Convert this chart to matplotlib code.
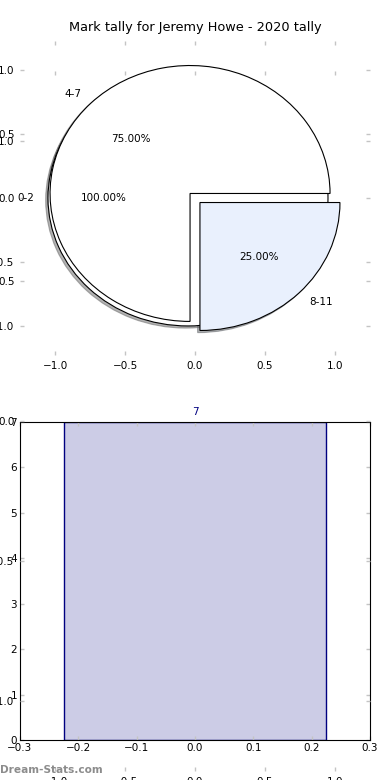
import matplotlib.pyplot as plt

# dados do grafico
titulo = 'Mark tally for Jeremy Howe - 2020 tally'
rotulos_1 = ['0-2']
valores_1 = [1]
rotulos_2 = ['4-7', '8-11']
valores_2 = [3, 1]
cores_2 = ['#ffffff', '#e9f0fd']
barra_x = [0]
barra_altura = [7]

W, H = 390.0, 780.0
fig = plt.figure(figsize=(3.9, 7.8), dpi=100)


def caixa(x0, y0, x1, y1):
    # pixels (topo=0) -> fracao da figura
    return [x0 / W, (H - y1) / H, (x1 - x0) / W, (y1 - y0) / H]


def ticks(ax):
    ax.tick_params(direction='in', length=3, width=1, color='#c4c4c4',
                   labelsize=7.5, top=True, right=True, pad=4)


# eixo fantasma (so ticks)
ax_b = fig.add_axes(caixa(20, 71, 370, 771), zorder=3)
ax_b.set_frame_on(False)
ax_b.patch.set_visible(False)
ax_b.set_xlim(-1.25, 1.25)
ax_b.set_ylim(-1.25, 1.25)
ax_b.set_xticks([-1.0, -0.5, 0.0, 0.5, 1.0])
ax_b.set_yticks([-1.0, -0.5, 0.0, 0.5, 1.0])
ticks(ax_b)

# pizza
sombra = {'ox': -0.012, 'oy': -0.012, 'shade': 0.6}
ax_a = fig.add_axes(caixa(20, 41, 370, 355), zorder=1)
ax_a.pie(valores_1, labels=rotulos_1, colors=['#ffffff'], explode=[0.05],
         autopct='%.2f%%', shadow=sombra, frame=True,
         wedgeprops={'linewidth': 0.8, 'edgecolor': 'black'},
         textprops={'fontsize': 7.5})
ax_a.pie(valores_2, labels=rotulos_2, colors=cores_2, explode=[0.05, 0.05],
         autopct='%.2f%%', shadow=sombra, frame=True,
         wedgeprops={'linewidth': 0.8, 'edgecolor': 'black'},
         textprops={'fontsize': 7.5})
ax_a.set_aspect('auto')
ax_a.set_frame_on(False)
ax_a.set_xlim(-1.25, 1.25)
ax_a.set_ylim(-1.227, 1.227)
ax_a.set_xticks([-1.0, -0.5, 0.0, 0.5, 1.0])
ax_a.set_yticks([-1.0, -0.5, 0.0, 0.5, 1.0])
ticks(ax_a)
ax_a.set_title(titulo, fontsize=9.3, pad=7)

# barras
ax_c = fig.add_axes(caixa(20, 422, 370, 740), zorder=2)
ax_c.patch.set_visible(False)
barras = ax_c.bar(barra_x, barra_altura, width=0.45, color='#ccccE6',
                  edgecolor='#000080', linewidth=1)
for b, v in zip(barras, barra_altura):
    ax_c.text(b.get_x() + b.get_width() / 2, v + 0.1, str(v),
              ha='center', va='bottom', color='#000080', fontsize=7.5)
ax_c.set_xlim(-0.3, 0.3)
ax_c.set_ylim(0, 7)
ax_c.set_xticks([-0.3, -0.2, -0.1, 0.0, 0.1, 0.2, 0.3])
ax_c.set_yticks(range(0, 8))
ticks(ax_c)
ax_c.tick_params(pad=2)

fig.text(0.0, 10 / H, 'Dream-Stats.com', color='#8c8c8c', fontsize=7.6,
         fontweight='bold', ha='left', va='center')

plt.savefig('out.png', dpi=100)
